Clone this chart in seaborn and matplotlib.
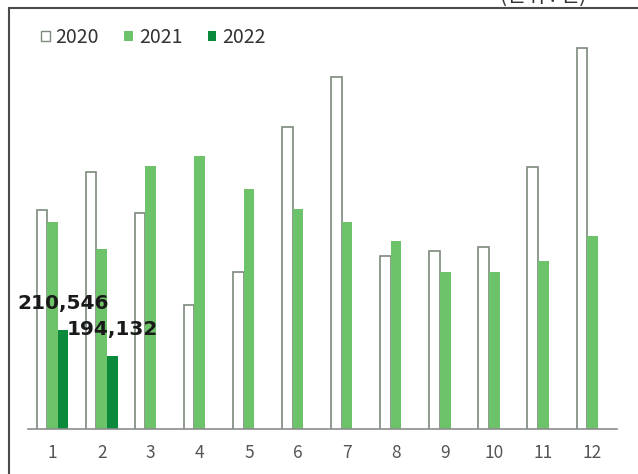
import numpy as np
import pandas as pd
import matplotlib.pyplot as plt
import seaborn as sns
from matplotlib.patches import Patch
from matplotlib.lines import Line2D

# Data =====================================================================
months = ["1", "2", "3", "4", "5", "6", "7", "8", "9", "10", "11", "12"]
v2020 = [286000, 310200, 284300, 226200, 247100, 338600,
         370100, 257200, 260300, 262800, 313300, 388400]
v2021 = [278600, 261600, 314000, 320300, 299400, 286800,
         278600, 266600, 247100, 247100, 254000, 269800]
v2022 = [210546, 194132] + [np.nan] * 10
years = ["2020", "2021", "2022"]
unit_text = "(단위 : 건)"

df = pd.DataFrame({
    "month": months * 3,
    "value": v2020 + v2021 + v2022,
    "year": [y for y in years for _ in months],
})

colors = {"2020": "#ffffff", "2021": "#6dc36a", "2022": "#0a8a3a"}
edge_2020 = "#7d8a7d"

# Figure ====================================================================
sns.set_theme(style="white")
plt.rcParams["font.family"] = ["Noto Sans CJK KR", "DejaVu Sans"]

W, H = 638, 474
fig = plt.figure(figsize=(W / 100, H / 100), dpi=100)
ax_l, ax_r, ax_b, ax_t = 28, 617, 429, 29
ax = fig.add_axes([ax_l / W, 1 - ax_b / H, (ax_r - ax_l) / W, (ax_b - ax_t) / H])

sns.barplot(data=df, x="month", y="value", hue="year", palette=colors,
            width=0.65, ax=ax, legend=False, errorbar=None,
            saturation=1, linewidth=0)

for patch in ax.containers[0]:
    patch.set_edgecolor(edge_2020)
    patch.set_linewidth(1.2)

# axis starts well above zero in the original
ax.set_ylim(148000, 148000 + 400 * 631)
ax.set_xlim(-0.5, 11.5)

# data labels for 2022
for i, v in enumerate(v2022):
    if np.isnan(v):
        continue
    xpos = i + 0.65 / 3
    ax.annotate(f"{int(v):,}", xy=(xpos, v), xytext=(0, 12),
                textcoords="offset points", ha="center", va="bottom",
                fontsize=14.5, fontweight="bold", color="#1a1a1a",
                family="DejaVu Sans")

# axes styling
for s in ["left", "top", "right"]:
    ax.spines[s].set_visible(False)
ax.spines["bottom"].set_color("#8c8c8c")
ax.spines["bottom"].set_linewidth(1.2)
ax.set_yticks([])
ax.set_xlabel("")
ax.set_ylabel("")
ax.tick_params(axis="x", which="major", length=0, pad=11,
               labelsize=12.5, labelcolor="#555555")
ax.set_xticks(np.arange(-0.5, 12, 1), minor=True)
ax.tick_params(axis="x", which="minor", length=6, width=1, color="#8c8c8c",
               direction="out")

# legend
handles = [Patch(facecolor=colors[y], edgecolor=edge_2020 if y == "2020" else colors[y],
                 linewidth=1 if y == "2020" else 0, label=y) for y in years]
fig.legend(handles=handles, loc="upper left", bbox_to_anchor=(41 / W, 1 - 27 / H),
           ncol=3, frameon=False, fontsize=14, handlelength=0.45, handleheight=0.45,
           handletextpad=0.3, columnspacing=1.3, borderpad=0, borderaxespad=0,
           labelcolor="#333333")

# outer frame (cropped at right and bottom)
fx, fy = 9 / W, 1 - 8 / H
fig.add_artist(Line2D([fx, 1], [fy, fy], transform=fig.transFigure,
                      color="#4a4a4a", linewidth=1.5))
fig.add_artist(Line2D([fx, fx], [fy, 0], transform=fig.transFigure,
                      color="#4a4a4a", linewidth=1.5))

# unit note, cut off at the top as in the original
fig.text(500 / W, 1 - 2 / H, unit_text, ha="left", va="baseline",
         fontsize=15, color="#333333")

fig.savefig("out.png", dpi=100)
